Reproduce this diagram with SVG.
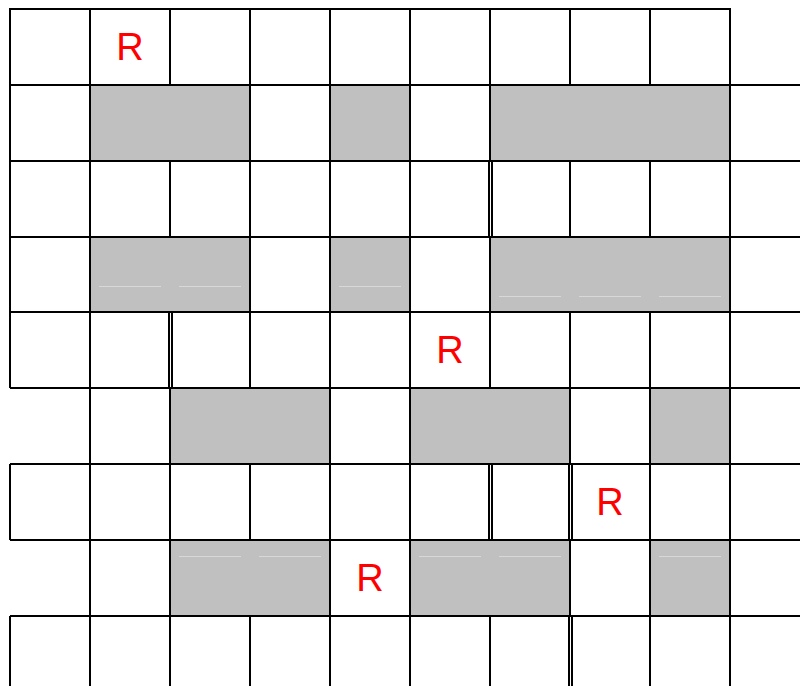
<svg xmlns="http://www.w3.org/2000/svg" width="800" height="686" viewBox="0 0 800 686">
<style>
.g{fill:#c0c0c0}
.l{stroke:#000;stroke-width:2;fill:none}
.s{stroke:#d8d8d8;stroke-width:1}
.r{font-family:"Liberation Sans",Arial,sans-serif;font-size:38px;fill:#ff0000;text-anchor:middle}
</style>
<rect width="800" height="686" fill="#fff"/>
<g id="grey-cells">
<rect class="g" x="90" y="85" width="160" height="76"/>
<rect class="g" x="330" y="85" width="80" height="76"/>
<rect class="g" x="490" y="85" width="240" height="76"/>
<rect class="g" x="90" y="237" width="160" height="75"/>
<rect class="g" x="330" y="237" width="80" height="75"/>
<rect class="g" x="490" y="237" width="240" height="75"/>
<rect class="g" x="170" y="388" width="160" height="76"/>
<rect class="g" x="410" y="388" width="160" height="76"/>
<rect class="g" x="650" y="388" width="80" height="76"/>
<rect class="g" x="170" y="540" width="160" height="76"/>
<rect class="g" x="410" y="540" width="160" height="76"/>
<rect class="g" x="650" y="540" width="80" height="76"/>
</g>
<g id="faint-lines">
<path class="s" d="M99 286.5H161M179 286.5H241M339 286.5H401M499 296.5H561M579 296.5H641M659 296.5H721M179 556.5H241M259 556.5H321M419 556.5H481M499 556.5H561M659 556.5H721"/>
</g>
<g id="grid-lines">
<path class="l" d="M10 9H730M10 85H800M10 161H800M10 237H800M10 312H800M10 388H800M10 464H800M10 540H800M10 616H800"/>
<path class="l" d="M10 8V85M90 8V85M170 8V85M250 8V85M330 8V85M410 8V85M490 8V85M570 8V85M650 8V85M730 8V85"/>
<path class="l" d="M10 85V161M90 85V161M250 85V161M330 85V161M410 85V161M490 85V161M730 85V161"/>
<path class="l" d="M10 161V237M90 161V237M170 161V237M250 161V237M330 161V237M410 161V237M489 161V237M492 161V237M570 161V237M650 161V237M730 161V237"/>
<path class="l" d="M10 237V312M90 237V312M250 237V312M330 237V312M410 237V312M490 237V312M730 237V312"/>
<path class="l" d="M10 312V388M90 312V388M169 312V388M172 312V388M250 312V388M330 312V388M410 312V388M490 312V388M570 312V388M650 312V388M730 312V388"/>
<path class="l" d="M90 388V464M170 388V464M330 388V464M410 388V464M570 388V464M650 388V464M730 388V464"/>
<path class="l" d="M10 464V540M90 464V540M170 464V540M250 464V540M330 464V540M410 464V540M489 464V540M492 464V540M569 464V540M572 464V540M650 464V540M730 464V540"/>
<path class="l" d="M90 540V616M170 540V616M330 540V616M410 540V616M570 540V616M650 540V616M730 540V616"/>
<path class="l" d="M10 616V686M90 616V686M170 616V686M250 616V686M330 616V686M410 616V686M490 616V686M569 616V686M572 616V686M650 616V686M730 616V686"/>
</g>
<g id="labels">
<text class="r" x="130" y="60">R</text>
<text class="r" x="450" y="363">R</text>
<text class="r" x="610" y="515">R</text>
<text class="r" x="370" y="591">R</text>
</g>
</svg>
